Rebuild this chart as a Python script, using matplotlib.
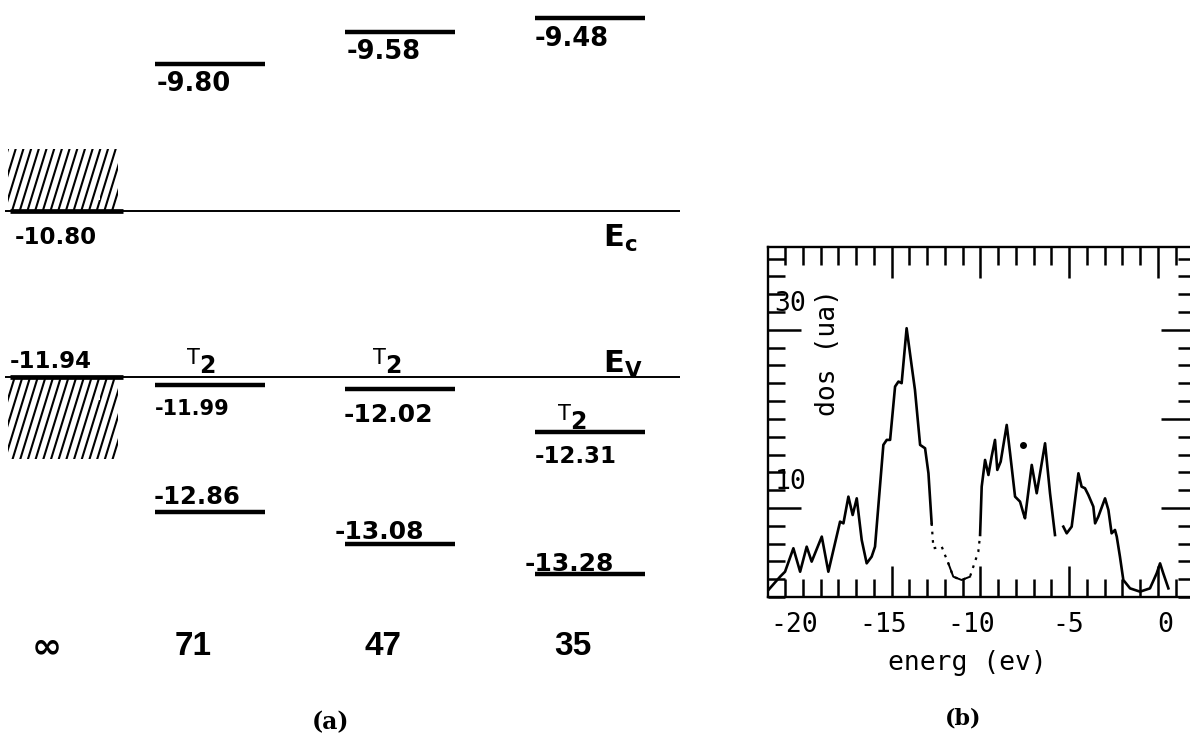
import warnings
warnings.filterwarnings('ignore')
import numpy as np
import matplotlib
matplotlib.use('Agg')
import matplotlib.pyplot as plt
from matplotlib.patches import Rectangle
from matplotlib.ticker import FixedLocator
from matplotlib.transforms import ScaledTranslation
import matplotlib.hatch as mhatch
from matplotlib.path import Path

# ------------------------------------------------------------------ data (a)
cluster_sizes = ['∞', '71', '47', '35']
E_c = -10.80
E_v = -11.94
levels_71 = [-9.80, -11.99, -12.86]
levels_47 = [-9.58, -12.02, -13.08]
levels_35 = [-9.48, -12.31, -13.28]
t2_levels = [-11.99, -12.02, -12.31]

# ------------------------------------------------------------------ data (b)
xtick_values = [-20, -15, -10, -5, 0]
xtick_labels = ['-20', '-15', '-10', '-5', '0']
ytick_values = [10, 30]
ytick_labels = ['10', '30']

val_x = [-21.94, -21.28, -21.00, -20.53, -20.15, -19.78, -19.50, -18.93, -18.56,
         -17.90, -17.71, -17.43, -17.19, -16.96, -16.68, -16.40, -16.12, -15.93,
         -15.46, -15.27, -15.08, -14.80, -14.61, -14.43, -14.15, -13.86, -13.68,
         -13.39, -13.11, -12.92, -12.74]
val_y = [0.78, 2.28, 2.84, 5.47, 2.84, 5.65, 3.97, 6.78, 2.84,
         8.46, 8.27, 11.27, 9.21, 11.08, 6.40, 3.78, 4.53, 5.65,
         17.08, 17.64, 17.64, 23.63, 24.19, 24.01, 30.18, 25.88, 23.26,
         17.08, 16.70, 13.89, 8.28]

gap_x = [-12.74, -12.64, -12.17, -11.99, -11.80, -11.52, -11.05, -10.58, -10.11, -10.01]
gap_y = [8.28, 5.47, 5.65, 4.72, 3.79, 2.28, 1.91, 2.28, 5.09, 6.97]

con1_x = [-10.01, -9.92, -9.73, -9.54, -9.36, -9.17, -9.04, -8.85, -8.51, -8.32,
          -8.04, -7.76, -7.57, -7.48, -7.10, -6.82, -6.35, -6.07, -5.79]
con1_y = [6.97, 12.39, 15.39, 13.70, 15.77, 17.64, 14.27, 15.20, 19.32, 16.14,
          11.27, 10.71, 9.40, 8.84, 14.83, 11.65, 17.26, 11.65, 6.96]

con2_x = [-5.32, -5.13, -4.85, -4.47, -4.29, -4.10, -3.91, -3.63, -3.53, -3.35,
          -2.97, -2.78, -2.60, -2.41, -2.31, -2.13, -1.94, -1.56, -1.00, -0.44,
          -0.06, 0.13, 0.31, 0.60]
con2_y = [7.90, 7.15, 7.90, 13.89, 12.39, 12.21, 11.46, 10.15, 8.27, 9.02,
          11.08, 9.77, 7.15, 7.53, 6.78, 4.53, 1.91, 0.97, 0.60, 0.97,
          2.66, 3.78, 2.66, 0.97]

dot_x = [-7.57]
dot_y = [17.08]


# ------------------------------------------------------------------ steep hatch
class SteepHatch(mhatch.HatchPatternBase):
    def __init__(self, hatch, density):
        self.n = 13 * hatch.count('S')
        self.shift = 4
        self.num_lines = (self.n + self.shift) if self.n else 0
        self.num_vertices = self.num_lines * 2

    def set_vertices_and_codes(self, vertices, codes):
        k = np.arange(-self.shift, self.n)
        x0 = k / self.n
        vertices[0::2, 0] = x0
        vertices[0::2, 1] = 0.0
        vertices[1::2, 0] = x0 + self.shift / self.n
        vertices[1::2, 1] = 1.0
        codes[0::2] = Path.MOVETO
        codes[1::2] = Path.LINETO


mhatch._hatch_types.append(SteepHatch)
plt.rcParams['hatch.linewidth'] = 1.5

W, H = 1190, 740
fig = plt.figure(figsize=(W / 100, H / 100), dpi=100)
PX = 0.72  # points per pixel

# ------------------------------------------------------------------ panel (a)
ax_a = fig.add_axes([0, 0, 700 / W, 1])
ax_a.set_xlim(-0.1053, 3.5789)
ax_a.set_ylim(-14.4178, -9.3597)
ax_a.axis('off')

col_pos = [0.23, 1.0, 2.0, 3.0]
hw = 0.29

# band edges
ax_a.hlines([E_c, E_v], -0.079, 3.474, color='k', lw=1.4)
ax_a.hlines([E_c, E_v], -0.055, 0.54, color='k', lw=3.4)
ax_a.add_patch(Rectangle((-0.063, E_c), 0.579, 0.42, facecolor='none',
                         edgecolor='k', lw=0, hatch='S'))
ax_a.add_patch(Rectangle((-0.063, E_v - 0.56), 0.579, 0.56, facecolor='none',
                         edgecolor='k', lw=0, hatch='S'))

ax_a.annotate(f'{E_c:.2f}', xy=(-0.055, E_c), xytext=(5 * PX, -15 * PX),
              textcoords='offset points', ha='left', va='top',
              fontsize=16.5, fontweight='bold')
ax_a.annotate(f'{E_v:.2f}', xy=(-0.055, E_v), xytext=(0, 9 * PX),
              textcoords='offset points', ha='left', va='baseline',
              fontsize=16.5, fontweight='bold')
ax_a.annotate(r'$\mathbf{E_c}$', xy=(3.068, E_c), xytext=(0, -36 * PX),
              textcoords='offset points', ha='left', va='baseline', fontsize=22)
ax_a.annotate(r'$\mathbf{E_V}$', xy=(3.068, E_v), xytext=(0, 5 * PX),
              textcoords='offset points', ha='left', va='baseline', fontsize=22)

# levels of the three clusters
cluster_levels = [levels_71, levels_47, levels_35]
# styling per level: (side, gap px, dx px, fontsize)
lvl_style = [
    [('below', 7, 2, 18.5), ('below', 14, 0, 15), ('above', 8, -1, 17.5)],
    [('below', 7, 2, 18.5), ('below', 14, -1, 18), ('above', 5, -10, 18)],
    [('below', 8, 0, 18.5), ('below', 13, 0, 16.5), ('above', 3, -10, 18)],
]
for ci, levels in enumerate(cluster_levels):
    c = col_pos[ci + 1]
    ax_a.hlines(levels, c - hw, c + hw, color='k', lw=3.2)
    for lv, (side, gap, dx, fs) in zip(levels, lvl_style[ci]):
        if side == 'below':
            ax_a.annotate(f'{lv:.2f}', xy=(c - hw, lv), xytext=(dx * PX, -gap * PX),
                          textcoords='offset points', ha='left', va='top',
                          fontsize=fs, fontweight='bold')
        else:
            ax_a.annotate(f'{lv:.2f}', xy=(c - hw, lv), xytext=(dx * PX, gap * PX),
                          textcoords='offset points', ha='left', va='baseline',
                          fontsize=fs, fontweight='bold')

# T2 labels
t2_dx = [-0.12, -0.14, -0.17]
t2_gap = [12, 16, 3]
for ci, lv in enumerate(t2_levels):
    x = col_pos[ci + 1] + t2_dx[ci]
    g = t2_gap[ci]
    ax_a.annotate('T', xy=(x, lv), xytext=(0, (g + 9) * PX), textcoords='offset points',
                  ha='left', va='baseline', fontsize=15)
    ax_a.annotate('2', xy=(x, lv), xytext=(12 * PX, g * PX), textcoords='offset points',
                  ha='left', va='baseline', fontsize=17, fontweight='bold')

# cluster size labels
for ci, lab in enumerate(cluster_sizes):
    if lab == '∞':
        ax_a.text(col_pos[ci] - 0.09, -13.782, lab, ha='center', va='center',
                  fontsize=26, fontweight='bold', family='DejaVu Sans')
    else:
        ax_a.text(col_pos[ci] - 0.09, -13.782, lab, ha='center', va='center',
                  fontsize=24, fontweight='bold', family='Liberation Sans')

fig.text(330 / W, 1 - 722 / H, '(a)', ha='center', va='center', fontsize=17,
         fontweight='bold', family='DejaVu Serif')

# ------------------------------------------------------------------ panel (b)
ax_b = fig.add_axes([768 / W, (H - 597) / H, 425.25 / W, 350 / H])
ax_b.set_xlim(-21.96, 2.0)
ax_b.set_ylim(0, 39.3)
for s in ax_b.spines.values():
    s.set_linewidth(1.7)

ax_b.plot(val_x, val_y, color='k', lw=1.9, solid_joinstyle='round')
ax_b.plot(gap_x, gap_y, color='k', lw=1.6, ls=(0, (1.2, 2.6)))
ax_b.plot(gap_x[4:8], gap_y[4:8], color='k', lw=1.4)
ax_b.plot(con1_x, con1_y, color='k', lw=1.9, solid_joinstyle='round')
ax_b.plot(con2_x, con2_y, color='k', lw=1.9, solid_joinstyle='round')
ax_b.plot(dot_x, dot_y, 'o', color='k', ms=4)

mono = 'DejaVu Sans Mono'
ax_b.xaxis.set_major_locator(FixedLocator([-15, -10, -5, 0]))
ax_b.xaxis.set_minor_locator(FixedLocator(np.arange(-21, 2)))
ax_b.tick_params(axis='x', which='both', direction='in', top=True, bottom=True,
                 labelbottom=False, width=1.8)
ax_b.tick_params(axis='x', which='major', length=22)
ax_b.tick_params(axis='x', which='minor', length=13)
ax_b.yaxis.set_major_locator(FixedLocator([10, 30]))
ax_b.yaxis.set_minor_locator(FixedLocator(np.arange(0, 40, 2)))
ax_b.tick_params(axis='y', which='both', direction='in', left=True, right=False,
                 labelleft=False, width=1.8)
ax_b.tick_params(axis='y', which='major', length=24)
ax_b.tick_params(axis='y', which='minor', length=12)

sec_r = ax_b.secondary_yaxis('right')
sec_r.yaxis.set_major_locator(FixedLocator([10, 20, 30]))
sec_r.yaxis.set_minor_locator(FixedLocator(np.arange(0, 40, 2)))
sec_r.tick_params(which='both', direction='in', labelright=False, width=1.8)
sec_r.tick_params(which='major', length=23)
sec_r.tick_params(which='minor', length=11)

sec_x = ax_b.secondary_xaxis('bottom')
sec_x.set_xticks(xtick_values)
sec_x.set_xticklabels(xtick_labels, fontfamily=mono, fontsize=19)
sec_x.tick_params(length=0, pad=11)
sec_x.spines['bottom'].set_visible(False)
shift = ScaledTranslation(15 / 100, 0, fig.dpi_scale_trans)
for t in sec_x.xaxis.get_major_ticks():
    t.label1.set_horizontalalignment('right')
    t.label1.set_transform(t.label1.get_transform() + shift)

for v, lab in zip(ytick_values, ytick_labels):
    ax_b.text(-21.6, v + 2.1, lab, ha='left', va='baseline', fontsize=19, family=mono)

ax_b.set_xlabel('energ (ev)', fontfamily=mono, fontsize=19)
ax_b.xaxis.set_label_coords(0.468, -0.151)
ax_b.text(-18.6, 27.5, 'dos (ua)', rotation=90, ha='center', va='center',
          fontsize=19, family=mono)

fig.text(963 / W, 1 - 718 / H, '(b)', ha='center', va='center', fontsize=16,
         fontweight='bold', family='DejaVu Serif')

fig.savefig('out.png', dpi=100)
